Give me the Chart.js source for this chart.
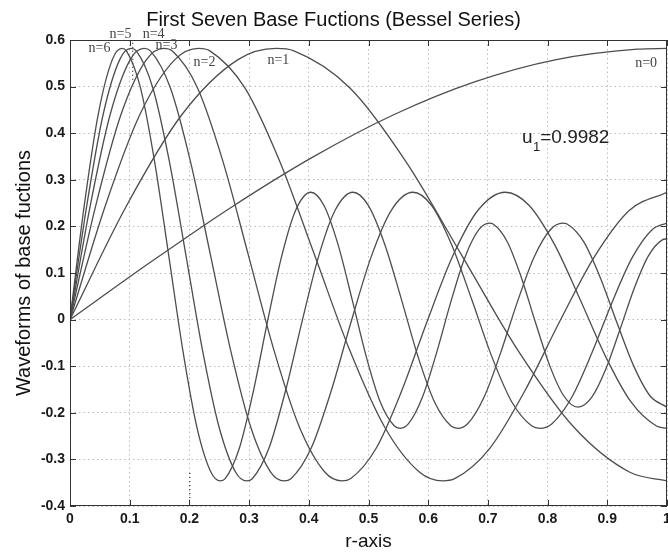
<!DOCTYPE html>
<html>
<head>
<meta charset="utf-8">
<title>First Seven Base Fuctions (Bessel Series)</title>
<script src="https://cdn.jsdelivr.net/npm/chart.js@4/dist/chart.umd.min.js"></script>
<style>
html, body { margin: 0; padding: 0; background: #fff; }
canvas { display: block; }
</style>
</head>
<body>
<canvas id="chart" width="668" height="553"></canvas>
<script>
// r positions and values of each base function
var r0 = [0, 0.1358, 0.2716, 0.4073, 0.5431, 0.6789, 0.8147, 0.9505, 1];
var y0 = [0, 0.1240, 0.2423, 0.3492, 0.4401, 0.5106, 0.5579, 0.5802, 0.5819];

var r1 = [0, 0.0938, 0.1876, 0.2814, 0.3453, 0.3751, 0.4689, 0.5627, 0.6565, 0.7503, 0.8441, 0.9378, 1];
var y1 = [0, 0.2423, 0.4401, 0.5579, 0.5819, 0.5767, 0.4971, 0.3391, 0.1374, -0.0660, -0.2311, -0.3276, -0.3461];

var r2 = [0, 0.0586, 0.1171, 0.1757, 0.2157, 0.2343, 0.2929, 0.3514, 0.4100, 0.4686, 0.5272, 0.5857, 0.6246, 0.6443,
          0.7029, 0.7615, 0.8200, 0.8786, 0.9372, 1];
var y2 = [0, 0.2423, 0.4401, 0.5579, 0.5819, 0.5767, 0.4971, 0.3391, 0.1374, -0.0660, -0.2311, -0.3276, -0.3461, -0.3414,
          -0.2767, -0.1538, -0.0047, 0.1352, 0.2346, 0.2733];

var r3 = [0, 0.0427, 0.0854, 0.1281, 0.1573, 0.1709, 0.2136, 0.2563, 0.2990, 0.3417, 0.3844, 0.4271, 0.4554, 0.4698,
          0.5126, 0.5553, 0.5980, 0.6407, 0.6834, 0.7292, 0.7688, 0.8115, 0.8543, 0.8970, 0.9397, 0.9824, 1];
var y3 = [0, 0.2423, 0.4401, 0.5579, 0.5819, 0.5767, 0.4971, 0.3391, 0.1374, -0.0660, -0.2311, -0.3276, -0.3461, -0.3414,
          -0.2767, -0.1538, -0.0047, 0.1352, 0.2346, 0.2733, 0.2453, 0.1613, 0.0435, -0.0789, -0.1768, -0.2284, -0.2333];

var r4 = [0, 0.0336, 0.0673, 0.1009, 0.1239, 0.1346, 0.1682, 0.2018, 0.2355, 0.2691, 0.3028, 0.3364, 0.3587, 0.3700,
          0.4037, 0.4373, 0.4709, 0.5046, 0.5382, 0.5743, 0.6055, 0.6391, 0.6728, 0.7064, 0.7401, 0.7737, 0.7876,
          0.8073, 0.8410, 0.8746, 0.9083, 0.9419, 0.9755, 1];
var y4 = [0, 0.2423, 0.4401, 0.5579, 0.5819, 0.5767, 0.4971, 0.3391, 0.1374, -0.0660, -0.2311, -0.3276, -0.3461, -0.3414,
          -0.2767, -0.1538, -0.0047, 0.1352, 0.2346, 0.2733, 0.2453, 0.1613, 0.0435, -0.0789, -0.1768, -0.2284, -0.2333,
          -0.2234, -0.1655, -0.0703, 0.0380, 0.1334, 0.1934, 0.2070];

var r5 = [0, 0.0278, 0.0555, 0.0833, 0.1022, 0.1110, 0.1388, 0.1665, 0.1943, 0.2220, 0.2498, 0.2775, 0.2959, 0.3053,
          0.3330, 0.3608, 0.3886, 0.4163, 0.4441, 0.4738, 0.4996, 0.5273, 0.5551, 0.5828, 0.6106, 0.6383, 0.6498,
          0.6661, 0.6939, 0.7216, 0.7494, 0.7771, 0.8049, 0.8251, 0.8326, 0.8604, 0.8881, 0.9159, 0.9436, 0.9714, 1];
var y5 = [0, 0.2423, 0.4401, 0.5579, 0.5819, 0.5767, 0.4971, 0.3391, 0.1374, -0.0660, -0.2311, -0.3276, -0.3461, -0.3414,
          -0.2767, -0.1538, -0.0047, 0.1352, 0.2346, 0.2733, 0.2453, 0.1613, 0.0435, -0.0789, -0.1768, -0.2284, -0.2333,
          -0.2234, -0.1655, -0.0703, 0.0380, 0.1334, 0.1934, 0.2070, 0.2051, 0.1672, 0.0904, -0.0058, -0.0977, -0.1634,
          -0.1880];

var r6 = [0, 0.0236, 0.0472, 0.0709, 0.0870, 0.0945, 0.1181, 0.1417, 0.1654, 0.1890, 0.2126, 0.2362, 0.2519, 0.2599,
          0.2835, 0.3071, 0.3307, 0.3544, 0.3780, 0.4033, 0.4252, 0.4489, 0.4725, 0.4961, 0.5197, 0.5434, 0.5531,
          0.5670, 0.5906, 0.6142, 0.6379, 0.6615, 0.6851, 0.7023, 0.7087, 0.7324, 0.7560, 0.7796, 0.8032, 0.8269,
          0.8512, 0.8741, 0.8977, 0.9214, 0.9450, 0.9686, 0.9922, 1];
var y6 = [0, 0.2423, 0.4401, 0.5579, 0.5819, 0.5767, 0.4971, 0.3391, 0.1374, -0.0660, -0.2311, -0.3276, -0.3461, -0.3414,
          -0.2767, -0.1538, -0.0047, 0.1352, 0.2346, 0.2733, 0.2453, 0.1613, 0.0435, -0.0789, -0.1768, -0.2284, -0.2333,
          -0.2234, -0.1655, -0.0703, 0.0380, 0.1334, 0.1934, 0.2070, 0.2051, 0.1672, 0.0904, -0.0058, -0.0977, -0.1634,
          -0.1880, -0.1666, -0.1057, -0.0209, 0.0668, 0.1362, 0.1712, 0.1733];

// the two short dotted marks left in the figure
var dotA_r = [0.105, 0.105];
var dotA_y = [0.594, 0.508];
var dotB_r = [0.2007, 0.2007];
var dotB_y = [-0.329, -0.387];

var curveNames = ['n=0', 'n=1', 'n=2', 'n=3', 'n=4', 'n=5', 'n=6'];
var xTickLabels = ['0', '0.1', '0.2', '0.3', '0.4', '0.5', '0.6', '0.7', '0.8', '0.9', '1'];
var yTickLabels = ['-0.4', '-0.3', '-0.2', '-0.1', '0', '0.1', '0.2', '0.3', '0.4', '0.5', '0.6'];

// label placement in data coords (r, value)
var curveLabelAt = [[0.965, 0.551], [0.349, 0.557], [0.2253, 0.553], [0.1616, 0.589],
                    [0.140, 0.613], [0.0846, 0.613], [0.0494, 0.583]];

function pts(rs, ys) { // zip r and value arrays
    var out = [];
    for (var i = 0; i < rs.length; i++) out.push({x: rs[i], y: ys[i]});
    return out;
}

var allR = [r0, r1, r2, r3, r4, r5, r6];
var allY = [y0, y1, y2, y3, y4, y5, y6];
var datasets = [];
for (var k = 0; k < allR.length; k++) {
    datasets.push({
        label: curveNames[k],
        data: pts(allR[k], allY[k]),
        borderColor: '#4d4d4d',
        borderWidth: 1.3,
        pointRadius: 0,
        fill: false,
        cubicInterpolationMode: 'monotone'
    });
}
[[dotA_r, dotA_y], [dotB_r, dotB_y]].forEach(function(d) {
    datasets.push({
        label: '',
        data: pts(d[0], d[1]),
        borderColor: '#222',
        borderWidth: 1.2,
        borderDash: [1, 3],
        pointRadius: 0,
        fill: false
    });
});

// frame, inward ticks and text notes
var decor = {
    id: 'decor',
    afterDraw: function(chart) {
        var ctx = chart.ctx, a = chart.chartArea;
        var xs = chart.scales.x, ys = chart.scales.y;
        ctx.save();
        ctx.strokeStyle = '#333';
        ctx.lineWidth = 1;
        ctx.strokeRect(a.left + 0.5, a.top + 0.5, a.right - a.left - 1, a.bottom - a.top - 1);
        ctx.beginPath();
        xs.ticks.forEach(function(t) {
            var px = Math.round(xs.getPixelForValue(t.value)) + 0.5;
            ctx.moveTo(px, a.bottom); ctx.lineTo(px, a.bottom - 6);
            ctx.moveTo(px, a.top); ctx.lineTo(px, a.top + 6);
        });
        ys.ticks.forEach(function(t) {
            var py = Math.round(ys.getPixelForValue(t.value)) + 0.5;
            ctx.moveTo(a.left, py); ctx.lineTo(a.left + 6, py);
            ctx.moveTo(a.right, py); ctx.lineTo(a.right - 6, py);
        });
        ctx.stroke();

        // n= labels
        ctx.fillStyle = '#444';
        ctx.font = '14px "Liberation Serif", "DejaVu Serif", serif';
        ctx.textAlign = 'center';
        ctx.textBaseline = 'middle';
        for (var i = 0; i < curveNames.length; i++) {
            ctx.fillText(curveNames[i], xs.getPixelForValue(curveLabelAt[i][0]), ys.getPixelForValue(curveLabelAt[i][1]));
        }

        // u1 = 0.9982
        var ux = xs.getPixelForValue(0.757), uy = ys.getPixelForValue(0.379);
        ctx.fillStyle = '#222';
        ctx.textAlign = 'left';
        ctx.textBaseline = 'alphabetic';
        ctx.font = '19px "Liberation Sans", Arial, sans-serif';
        ctx.fillText('u', ux, uy);
        var w = ctx.measureText('u').width;
        ctx.font = '13px "Liberation Sans", Arial, sans-serif';
        ctx.fillText('1', ux + w + 0.5, uy + 8);
        var w2 = ctx.measureText('1').width;
        ctx.font = '19px "Liberation Sans", Arial, sans-serif';
        ctx.fillText('=0.9982', ux + w + w2 + 0.5, uy);
        ctx.restore();
    }
};

Chart.defaults.font.family = '"Liberation Sans", Arial, sans-serif';
Chart.defaults.color = '#111';

var chart = new Chart(document.getElementById('chart'), {
    type: 'line',
    data: { datasets: datasets },
    options: {
        responsive: false,
        animation: false,
        devicePixelRatio: 1,
        layout: { padding: { left: 0, right: 1, top: 0, bottom: 0 } },
        plugins: {
            legend: { display: false },
            tooltip: { enabled: false },
            title: {
                display: true,
                text: 'First Seven Base Fuctions (Bessel Series)',
                font: { size: 20, weight: 'normal' },
                color: '#111',
                padding: { top: 8, bottom: 8 }
            }
        },
        scales: {
            x: {
                type: 'linear',
                min: 0,
                max: 1,
                afterFit: function(s) { s.height = 47; s.paddingLeft = 0; s.paddingRight = 0; },
                ticks: {
                    stepSize: 0.1,
                    padding: 5,
                    maxRotation: 0,
                    autoSkip: false,
                    font: { size: 14, weight: 'bold' },
                    color: '#1a1a1a',
                    callback: function(v, i) { return xTickLabels[i]; }
                },
                grid: { color: '#bcbcbc', lineWidth: 1, drawTicks: false },
                border: { display: false, dash: [1.5, 3] },
                title: {
                    display: true,
                    text: 'r-axis',
                    font: { size: 19 },
                    color: '#111',
                    padding: { top: 0, bottom: 0 }
                }
            },
            y: {
                type: 'linear',
                min: -0.4,
                max: 0.6,
                afterFit: function(s) { s.width = 70; s.paddingTop = 0; s.paddingBottom = 0; },
                ticks: {
                    stepSize: 0.1,
                    padding: 5,
                    autoSkip: false,
                    font: { size: 14, weight: 'bold' },
                    color: '#1a1a1a',
                    callback: function(v, i) { return yTickLabels[i]; }
                },
                grid: { color: '#bcbcbc', lineWidth: 1, drawTicks: false },
                border: { display: false, dash: [1.5, 3] },
                title: {
                    display: true,
                    text: 'Waveforms of base fuctions',
                    font: { size: 20 },
                    color: '#111',
                    padding: { top: 12, bottom: 0 }
                }
            }
        }
    },
    plugins: [decor]
});
</script>
</body>
</html>
